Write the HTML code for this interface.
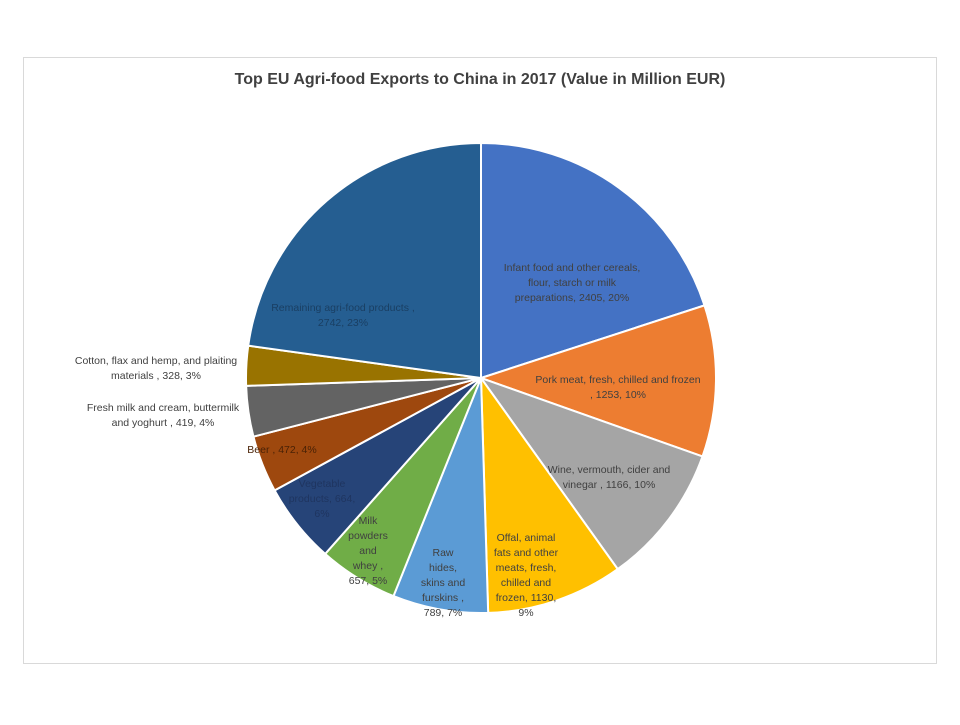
<!DOCTYPE html>
<html><head><meta charset="utf-8"><style>
body{margin:0;background:#fff;}
svg text{font-family:"Liberation Sans",sans-serif;}
</style></head><body>
<svg id="s" width="960" height="720" xmlns="http://www.w3.org/2000/svg">
<rect x="23.5" y="57.5" width="913" height="606" fill="#fff" stroke="#d9d9d9"/>
<text x="480" y="84" text-anchor="middle" font-size="16" font-weight="bold" fill="#404040">Top EU Agri-food Exports to China in 2017 (Value in Million EUR)</text>
<g id="pie"></g>
<g font-size="10.5" fill="#404040" text-anchor="middle">
<text x="572" y="271">Infant food and other cereals,</text>
<text x="572" y="286">flour, starch or milk</text>
<text x="572" y="301">preparations, 2405, 20%</text>
<text x="618" y="383">Pork meat, fresh, chilled and frozen</text>
<text x="618" y="398">, 1253, 10%</text>
<text x="609" y="473">Wine, vermouth, cider and</text>
<text x="609" y="488">vinegar , 1166, 10%</text>
<text x="526" y="541">Offal, animal</text>
<text x="526" y="556">fats and other</text>
<text x="526" y="571">meats, fresh,</text>
<text x="526" y="586">chilled and</text>
<text x="526" y="601">frozen, 1130,</text>
<text x="526" y="616">9%</text>
<text x="443" y="556">Raw</text>
<text x="443" y="571">hides,</text>
<text x="443" y="586">skins and</text>
<text x="443" y="601">furskins ,</text>
<text x="443" y="616">789, 7%</text>
<text x="368" y="524">Milk</text>
<text x="368" y="539">powders</text>
<text x="368" y="554">and</text>
<text x="368" y="569">whey ,</text>
<text x="368" y="584">657, 5%</text>
<text x="322" y="487" fill="#1f3560">Vegetable</text>
<text x="322" y="502" fill="#1f3560">products, 664,</text>
<text x="322" y="517" fill="#1f3560">6%</text>
<text x="282" y="453" fill="#4a2206">Beer , 472, 4%</text>
<text x="163" y="411">Fresh milk and cream, buttermilk</text>
<text x="163" y="426">and yoghurt , 419, 4%</text>
<text x="156" y="364">Cotton, flax and hemp, and plaiting</text>
<text x="156" y="379">materials , 328, 3%</text>
<text x="343" y="311" fill="#1a3f63">Remaining agri-food products ,</text>
<text x="343" y="326" fill="#1a3f63">2742, 23%</text>
</g>
</svg>
<script>
var v=[2405,1253,1166,1130,789,657,664,472,419,328,2742];
var c=["#4472C4","#ED7D31","#A5A5A5","#FFC000","#5B9BD5","#70AD47","#264478","#9E480E","#636363","#997300","#255E91"];
var T=v.reduce(function(a,b){return a+b},0),cx=481,cy=378,r=235,a=0,h="";
for(var i=0;i<v.length;i++){var b=a+v[i]/T*2*Math.PI;
var x1=cx+r*Math.sin(a),y1=cy-r*Math.cos(a),x2=cx+r*Math.sin(b),y2=cy-r*Math.cos(b);
h+='<path d="M'+cx+','+cy+' L'+x1+','+y1+' A'+r+','+r+' 0 '+((b-a)>Math.PI?1:0)+' 1 '+x2+','+y2+' Z" fill="'+c[i]+'" stroke="#fff" stroke-width="2"/>';a=b;}
document.getElementById("pie").innerHTML=h;
</script>
</body></html>
